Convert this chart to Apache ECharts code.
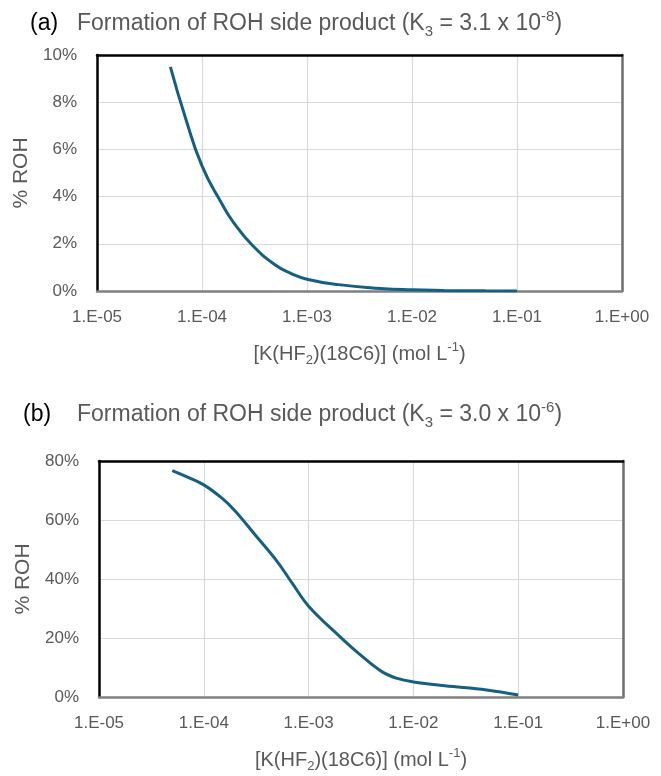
<!DOCTYPE html>
<html>
<head>
<meta charset="utf-8">
<script src="https://cdn.jsdelivr.net/npm/echarts@6/dist/echarts.min.js"></script>
<style>
  html, body { margin: 0; padding: 0; background: #fff; }
  #chart { width: 661px; height: 776px; }
</style>
</head>
<body>
<div id="chart"></div>
<script>
// concentrations of K(HF2)(18C6), mol/L
var concA = [5e-5, 7e-5, 1e-4, 1.5e-4, 2e-4, 3e-4, 5e-4, 7e-4, 1e-3, 2e-3, 5e-3, 1e-2, 2e-2, 5e-2, 1e-1];
var rohA = [9.5, 7.3, 5.3, 3.8, 2.9, 1.95, 1.1, 0.75, 0.5, 0.27, 0.11, 0.05, 0.025, 0.01, 0.005];

var concB = [5e-5, 7e-5, 1e-4, 1.5e-4, 2e-4, 3e-4, 5e-4, 7e-4, 1e-3, 2e-3, 3e-3, 5e-3, 7e-3, 1e-2, 2e-2, 5e-2, 1e-1];
var rohB = [76.7, 74.5, 71.9, 67.3, 63.0, 55.5, 46.0, 38.5, 30.8, 20.4, 14.8, 8.6, 6.3, 5.1, 3.8, 2.4, 0.7];

var xTickLabels = ['1.E-05', '1.E-04', '1.E-03', '1.E-02', '1.E-01', '1.E+00'];
var yMaxA = 10, yStepA = 2;
var yMaxB = 80, yStepB = 20;

var FONT = 'Liberation Sans';
var GRAY = '#595959';
var LINE = '#156082';

function pairs(xs, ys) {
  var out = [];
  for (var i = 0; i < xs.length; i++) out.push([xs[i], ys[i]]);
  return out;
}

function titleText(lab, k) {
  return '{lab|' + lab + '}{t|Formation of ROH side product (K}{sub|3}{t| = ' + k.base + ' x 10}{sup|' + k.exp + '}{t|)}';
}

function titleRich(labWidth) {
  return {
    lab: { color: '#000', fontSize: 23, fontWeight: 'normal', fontFamily: FONT, width: labWidth, lineHeight: 30 },
    t: { color: GRAY, fontSize: 23, fontWeight: 'normal', fontFamily: FONT, lineHeight: 30 },
    sub: { color: GRAY, fontSize: 15, fontWeight: 'normal', fontFamily: FONT, lineHeight: 15, verticalAlign: 'bottom' },
    sup: { color: GRAY, fontSize: 15, fontWeight: 'normal', fontFamily: FONT, lineHeight: 15, verticalAlign: 'top' }
  };
}

var xNameRich = {
  t: { color: GRAY, fontSize: 20, fontFamily: FONT, lineHeight: 26 },
  sub: { color: GRAY, fontSize: 13, fontFamily: FONT, lineHeight: 13, verticalAlign: 'bottom' },
  sup: { color: GRAY, fontSize: 13, fontFamily: FONT, lineHeight: 13, verticalAlign: 'top' }
};

function xAxisFor(gi) {
  return {
    type: 'log',
    gridIndex: gi,
    logBase: 10,
    min: 1e-5,
    max: 1,
    name: '{t|[K(HF}{sub|2}{t|)(18C6)] (mol L}{sup|-1}{t|)}',
    nameLocation: 'middle',
    nameGap: 50,
    nameTextStyle: { rich: xNameRich },
    axisLine: { show: true, onZero: false, lineStyle: { color: '#808080', width: 2.5 } },
    axisTick: { show: false },
    minorTick: { show: false },
    axisLabel: {
      color: GRAY, fontSize: 17, fontFamily: FONT, margin: 18,
      formatter: function (v) {
        var i = Math.round(Math.log10(v)) + 5;
        return xTickLabels[i] || '';
      }
    },
    splitLine: { show: true, lineStyle: { color: '#d9d9d9', width: 1.2 } }
  };
}

// plain frame line along the top of a plot
function topAxisFor(gi) {
  return {
    type: 'log',
    gridIndex: gi,
    position: 'top',
    logBase: 10,
    min: 1e-5,
    max: 1,
    axisLine: { show: true, onZero: false, lineStyle: { color: '#000', width: 2.5 } },
    axisTick: { show: false },
    axisLabel: { show: false },
    splitLine: { show: false }
  };
}

function yAxisFor(gi, max, step) {
  return {
    type: 'value',
    gridIndex: gi,
    min: 0,
    max: max,
    interval: step,
    name: '% ROH',
    nameLocation: 'middle',
    nameGap: 64,
    nameTextStyle: { color: GRAY, fontSize: 21, fontFamily: FONT },
    axisLine: { show: true, lineStyle: { color: '#000', width: 2.5 } },
    axisTick: { show: false },
    axisLabel: {
      color: GRAY, fontSize: 17, fontFamily: FONT, margin: 20,
      formatter: function (v) { return v + '%'; }
    },
    splitLine: { show: true, lineStyle: { color: '#d9d9d9', width: 1.2 } }
  };
}

function rightAxisFor(gi, max, step) {
  return {
    type: 'value',
    gridIndex: gi,
    position: 'right',
    min: 0,
    max: max,
    interval: step,
    axisLine: { show: true, lineStyle: { color: '#6e6e6e', width: 2.5 } },
    axisTick: { show: false },
    axisLabel: { show: false },
    splitLine: { show: false }
  };
}

var chart = echarts.init(document.getElementById('chart'), null, { renderer: 'canvas' });
chart.setOption({
  backgroundColor: '#fff',
  animation: false,
  title: [
    { text: titleText('(a)', { base: '3.1', exp: '-8' }), left: 25, top: 4, textStyle: { rich: titleRich(47) } },
    { text: titleText('(b)', { base: '3.0', exp: '-6' }), left: 18, top: 395, textStyle: { rich: titleRich(54) } }
  ],
  grid: [
    { left: 97, top: 55, width: 525, height: 236, outerBoundsMode: 'none', containLabel: false },
    { left: 99, top: 461, width: 524, height: 236, outerBoundsMode: 'none', containLabel: false }
  ],
  xAxis: [xAxisFor(0), xAxisFor(1), topAxisFor(0), topAxisFor(1)],
  yAxis: [
    yAxisFor(0, yMaxA, yStepA),
    yAxisFor(1, yMaxB, yStepB),
    rightAxisFor(0, yMaxA, yStepA),
    rightAxisFor(1, yMaxB, yStepB)
  ],
  series: [
    {
      type: 'line', xAxisIndex: 0, yAxisIndex: 0,
      data: pairs(concA, rohA),
      smooth: 0.5, showSymbol: false,
      lineStyle: { color: LINE, width: 3 }, itemStyle: { color: LINE }
    },
    {
      type: 'line', xAxisIndex: 1, yAxisIndex: 1,
      data: pairs(concB, rohB),
      smooth: 0.4, showSymbol: false,
      lineStyle: { color: LINE, width: 3 }, itemStyle: { color: LINE }
    }
  ]
});
</script>
</body>
</html>
